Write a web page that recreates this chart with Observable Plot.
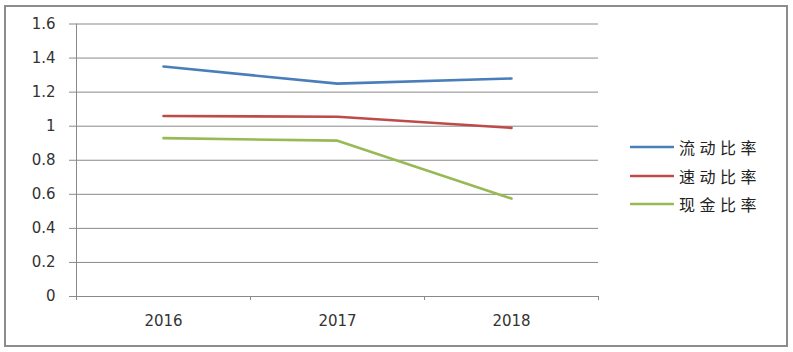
<!DOCTYPE html>
<html><head><meta charset="utf-8">
<script src="https://cdn.jsdelivr.net/npm/d3@7"></script>
<script src="https://cdn.jsdelivr.net/npm/@observablehq/plot@0.6"></script>
<style>
body{margin:0;background:#fff;}
#wrap{position:relative;width:793px;height:352px;overflow:hidden;}
#border{position:absolute;left:4px;top:5px;width:780px;height:338px;border:2px solid #8c8c8c;pointer-events:none;}
#legend{position:absolute;left:630px;top:133px;font-family:"Noto Sans CJK SC",sans-serif;font-size:16px;letter-spacing:4.5px;color:#222;}
#legend .item{display:flex;align-items:center;height:28.5px;}
#legend svg{margin-right:5px;}
</style></head>
<body><div id="wrap"><div id="border"></div><div id="legend"></div></div>
<script>
const years = [2016, 2017, 2018];
const seriesNames = ["流动比率", "速动比率", "现金比率"];
const currentRatio = [1.35, 1.25, 1.28];
const quickRatio = [1.06, 1.055, 0.99];
const cashRatio = [0.93, 0.915, 0.575];
const yTicks = [0, 0.2, 0.4, 0.6, 0.8, 1, 1.2, 1.4, 1.6];
const colors = ["#4a7ebb", "#be4b48", "#98b954"];

const allSeries = [currentRatio, quickRatio, cashRatio];
const data = [];
seriesNames.forEach((s, i) => years.forEach((y, j) => data.push({series: s, year: y, value: allSeries[i][j]})));
const bounds = [years[0] - 0.5, ...years.map(y => y + 0.5)];

const chart = Plot.plot({
  width: 793, height: 352,
  marginLeft: 76, marginRight: 195, marginTop: 23.5, marginBottom: 56,
  style: {fontFamily: "DejaVu Sans, Verdana, sans-serif", fontSize: "14px", color: "#333", background: "transparent"},
  x: {type: "linear", domain: [bounds[0], bounds[bounds.length - 1]]},
  y: {domain: [0, 1.6]},
  color: {domain: seriesNames, range: colors},
  marks: [
    Plot.gridY(yTicks, {stroke: "#8a8a8a", strokeOpacity: 1, strokeWidth: 1}),
    Plot.axisY({ticks: yTicks, tickSize: 7, tickPadding: 14, stroke: "#8a8a8a", label: null,
      tickFormat: d => String(+d.toFixed(1)), fontSize: 15, fill: "#333"}),
    Plot.ruleX([bounds[0]], {stroke: "#8a8a8a", insetBottom: -4}),
    Plot.axisX({ticks: bounds, tickSize: 4, tickFormat: () => "", stroke: "#8a8a8a", label: null}),
    Plot.axisX({ticks: years, tickSize: 0, tickPadding: 19, tickFormat: d => String(d), label: null, fontSize: 15, fill: "#333"}),
    Plot.line(data, {x: "year", y: "value", z: "series", stroke: "series", strokeWidth: 2.6, strokeLinecap: "round"})
  ]
});
document.getElementById("wrap").prepend(chart);

const legend = document.getElementById("legend");
seriesNames.forEach((s, i) => {
  const item = document.createElement("div");
  item.className = "item";
  item.innerHTML = `<svg width="44" height="6"><line x1="1" x2="43" y1="3" y2="3" stroke="${colors[i]}" stroke-width="2.6" stroke-linecap="round"/></svg><span>${s}</span>`;
  legend.appendChild(item);
});
</script>
</body></html>
